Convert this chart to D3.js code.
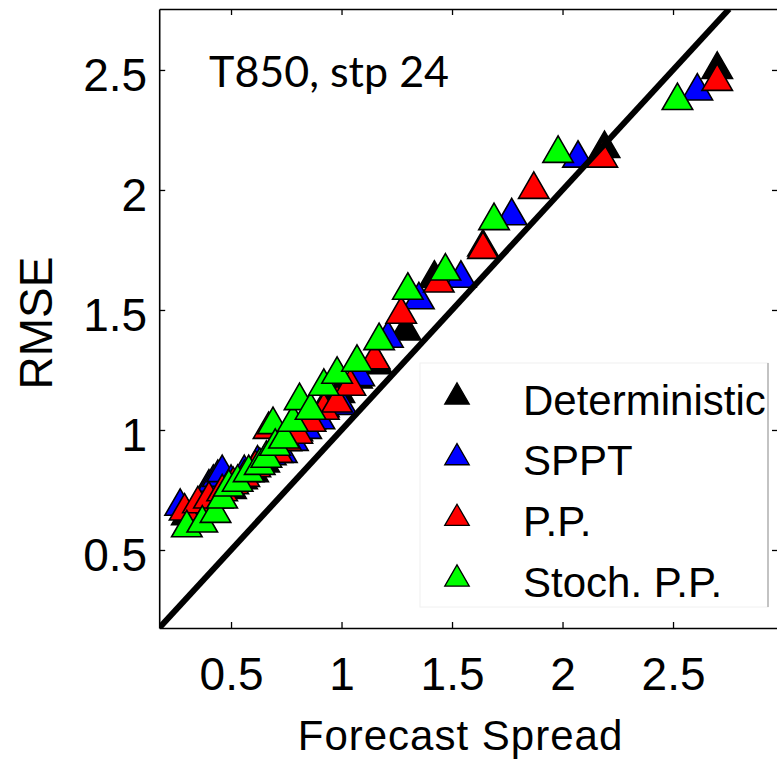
<!DOCTYPE html>
<html>
<head>
<meta charset="utf-8">
<script src="https://cdn.jsdelivr.net/npm/d3@7"></script>
<style>
  body { margin: 0; background: #fff; }
  svg { display: block; }
</style>
</head>
<body>
<div id="chart"></div>
<script>
const WIDTH = 777;
const HEIGHT = 759;

// data: forecast spread vs RMSE
const seriesNames = ["Deterministic", "SPPT", "P.P.", "Stoch. P.P."];
const seriesColors = ["#000000", "#0000ff", "#ff0000", "#00ff00"];

const detSpread = [0.30, 0.38, 0.44, 0.50, 0.55, 0.60, 0.65, 0.70, 0.75, 0.80, 0.86, 0.92, 0.99, 1.07, 1.16, 1.29, 1.42, 1.64, 2.19, 2.70];
const detRmse   = [0.66, 0.69, 0.73, 0.77, 0.81, 0.84, 0.88, 0.93, 0.97, 1.01, 1.06, 1.11, 1.17, 1.23, 1.29, 1.43, 1.65, 1.78, 2.19, 2.52];

const spptSpread = [0.27, 0.40, 0.42, 0.44, 0.46, 0.50, 0.56, 0.62, 0.68, 0.73, 0.78, 0.84, 0.90, 1.00, 1.08, 1.21, 1.35, 1.54, 1.77, 2.07, 2.61];
const spptRmse   = [0.70, 0.78, 0.80, 0.82, 0.84, 0.80, 0.84, 0.88, 0.91, 0.92, 0.97, 1.02, 1.06, 1.12, 1.24, 1.40, 1.56, 1.65, 1.91, 2.15, 2.43];

const ppSpread = [0.29, 0.35, 0.40, 0.46, 0.51, 0.56, 0.61, 0.67, 0.71, 0.75, 0.80, 0.86, 0.92, 0.98, 1.04, 1.15, 1.27, 1.44, 1.64, 1.87, 2.18, 2.70];
const ppRmse   = [0.68, 0.71, 0.73, 0.76, 0.79, 0.82, 0.86, 1.02, 0.92, 0.97, 1.00, 1.05, 1.10, 1.13, 1.20, 1.31, 1.50, 1.63, 1.77, 2.02, 2.15, 2.47];

const stochSpread = [0.30, 0.37, 0.43, 0.46, 0.49, 0.53, 0.58, 0.63, 0.66, 0.69, 0.70, 0.74, 0.78, 0.81, 0.86, 0.92, 0.98, 1.07, 1.17, 1.30, 1.47, 1.69, 1.98, 2.52];
const stochRmse   = [0.61, 0.63, 0.67, 0.73, 0.78, 0.80, 0.84, 0.87, 0.90, 1.04, 0.95, 0.98, 1.05, 1.14, 1.10, 1.20, 1.25, 1.30, 1.39, 1.60, 1.68, 1.89, 2.17, 2.39];

const xTicks = [0.5, 1, 1.5, 2, 2.5];
const yTicks = [0.5, 1, 1.5, 2, 2.5];

const xDomain = [0.175, 2.975];
const yDomain = [0.175, 2.754];

const series = [
    { name: seriesNames[0], color: seriesColors[0], xs: detSpread, ys: detRmse },
    { name: seriesNames[1], color: seriesColors[1], xs: spptSpread, ys: spptRmse },
    { name: seriesNames[2], color: seriesColors[2], xs: ppSpread, ys: ppRmse },
    { name: seriesNames[3], color: seriesColors[3], xs: stochSpread, ys: stochRmse }
];

const plot = { left: 159.2, top: 9, right: 778, bottom: 628 };

const x = d3.scaleLinear().domain(xDomain).range([plot.left, plot.right]);
const y = d3.scaleLinear().domain(yDomain).range([plot.bottom, plot.top]);

// matlab style '^' marker, centred on its bounding box
const triangleUp = {
    draw(ctx, size) {
        const w = Math.sqrt(size);
        const h = w * 0.866;
        ctx.moveTo(0, -h / 2);
        ctx.lineTo(w / 2, h / 2);
        ctx.lineTo(-w / 2, h / 2);
        ctx.closePath();
    }
};

const svg = d3.select("#chart")
    .append("svg")
        .attr("width", WIDTH)
        .attr("height", HEIGHT)
        .style("font-family", "'Liberation Sans', Arial, Helvetica, sans-serif");

svg.append("rect").attr("width", WIDTH).attr("height", HEIGHT).attr("fill", "#fff");

svg.append("defs").append("clipPath")
    .attr("id", "plotClip")
    .append("rect")
        .attr("x", plot.left)
        .attr("y", plot.top)
        .attr("width", plot.right - plot.left)
        .attr("height", plot.bottom - plot.top);

// axes (ticks point inward, on all four sides)
const axisFont = 46;

const gLeft = svg.append("g")
    .attr("transform", `translate(${plot.left},0)`)
    .call(d3.axisLeft(y).tickValues(yTicks).tickFormat(d3.format("")).tickSizeInner(-6).tickSizeOuter(0).tickPadding(12));
gLeft.selectAll("text").attr("dy", "0.45em");

const gBottom = svg.append("g")
    .attr("transform", `translate(0,${plot.bottom})`)
    .call(d3.axisBottom(x).tickValues(xTicks).tickFormat(d3.format("")).tickSizeInner(-6).tickSizeOuter(0).tickPadding(29));

const gTop = svg.append("g")
    .attr("transform", `translate(0,${plot.top})`)
    .call(d3.axisTop(x).tickValues(xTicks).tickFormat("").tickSizeInner(-6).tickSizeOuter(0));

const gRight = svg.append("g")
    .attr("transform", `translate(${plot.right},0)`)
    .call(d3.axisRight(y).tickValues(yTicks).tickFormat("").tickSizeInner(-6).tickSizeOuter(0));

[gLeft, gBottom, gTop, gRight].forEach(g => {
    g.selectAll("text")
        .style("font-size", axisFont + "px")
        .style("font-family", "'Liberation Sans', Arial, Helvetica, sans-serif")
        .attr("fill", "#000");
    g.select(".domain").attr("stroke", "#000").attr("stroke-width", 1.6);
    g.selectAll(".tick line").attr("stroke", "#000").attr("stroke-width", 1.3);
});

// markers, drawn in legend order so green ends up on top
const marks = svg.append("g").attr("clip-path", "url(#plotClip)");

series.forEach(s => {
    const pts = s.xs.map((v, i) => ({ spread: v, rmse: s.ys[i] }));
    marks.append("g")
        .selectAll("path")
        .data(pts)
        .enter()
        .append("path")
            .attr("d", d3.symbol().type(triangleUp).size(930))
            .attr("transform", d => `translate(${x(d.spread)},${y(d.rmse)})`)
            .attr("fill", s.color)
            .attr("stroke", "#000")
            .attr("stroke-width", 1.6)
            .attr("stroke-linejoin", "miter");
});

// one-to-one line
marks.append("line")
    .attr("x1", x(yDomain[0]))
    .attr("y1", y(yDomain[0]))
    .attr("x2", x(yDomain[1]))
    .attr("y2", y(yDomain[1]))
    .attr("stroke", "#000")
    .attr("stroke-width", 6);

// title inside the axes
svg.append("text")
    .attr("x", 209)
    .attr("y", 87)
    .style("font-family", "Lato, 'Open Sans', sans-serif")
    .style("font-size", "43px")
    .attr("fill", "#000")
    .text("T850, stp 24");

// axis titles
svg.append("text")
    .attr("x", 460.5)
    .attr("y", 750)
    .attr("text-anchor", "middle")
    .style("font-size", "42px")
    .style("letter-spacing", "1px")
    .attr("fill", "#000")
    .text("Forecast Spread");

svg.append("text")
    .attr("transform", "translate(52,323) rotate(-90)")
    .attr("text-anchor", "middle")
    .style("font-size", "46px")
    .attr("fill", "#000")
    .text("RMSE");

// legend
const legend = svg.append("g");

legend.append("rect")
    .attr("x", 420)
    .attr("y", 363)
    .attr("width", 348)
    .attr("height", 244)
    .attr("fill", "#fff")
    .attr("stroke", "#f0f0f0")
    .attr("stroke-width", 1);

legend.append("line")
    .attr("x1", 768).attr("x2", 768)
    .attr("y1", 363).attr("y2", 607)
    .attr("stroke", "#a0a0a0")
    .attr("stroke-width", 1.2);

const rowY = d3.scalePoint().domain(seriesNames).range([393.5, 575.5]);

const rows = legend.selectAll(".row")
    .data(series)
    .enter()
    .append("g")
        .attr("class", "row")
        .attr("transform", d => `translate(0,${rowY(d.name)})`);

rows.append("path")
    .attr("d", d3.symbol().type(triangleUp).size(600))
    .attr("transform", "translate(457,0)")
    .attr("fill", d => d.color)
    .attr("stroke", "#000")
    .attr("stroke-width", 1.3);

rows.append("text")
    .attr("x", 523)
    .attr("y", 21)
    .style("font-size", "42px")
    .attr("fill", "#000")
    .text(d => d.name);
</script>
</body>
</html>
